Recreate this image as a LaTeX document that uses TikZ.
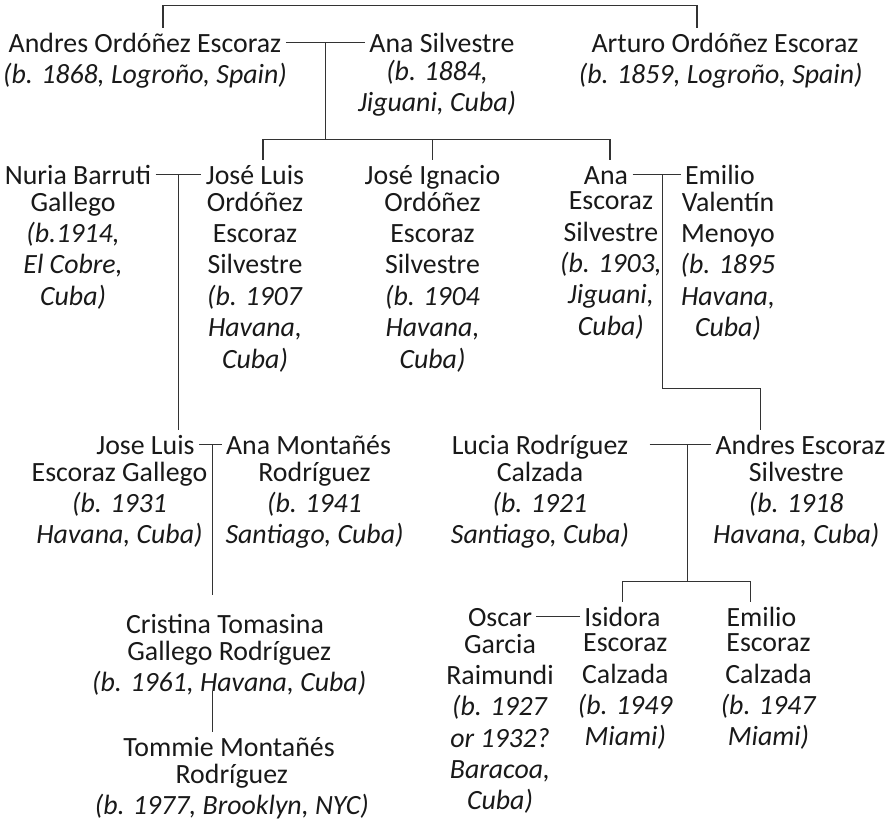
\documentclass[tikz,border=0pt]{standalone}
\usepackage{fontspec}
\setmainfont{Carlito}
\usetikzlibrary{positioning, calc}

\newcommand{\bdate}[1]{\textit{#1}}
\newcommand{\topstrut}{\rule{0pt}{17.1pt}}
\newcommand{\botstrut}{\rule[-5.2pt]{0pt}{5.2pt}}

\tikzset{
  who/.style={align=center, inner ysep=0pt, inner xsep=3pt, text=black!90,
    font=\fontsize{19.8}{22.3}\selectfont,
    execute at begin node=\topstrut, execute at end node=\botstrut},
  head/.style={who, anchor=base},
  rest/.style={who},
  cpl/.style={yshift=0.5pt},
  line/.style={line width=0.75pt, black!80}
}

\begin{document}
\begin{tikzpicture}[x=0.025cm, y=-0.025cm]
  \useasboundingbox (0,0) rectangle (889,824);

  % first generation %
  \node[head] (andres) at (145,52) {Andres Ordóñez Escoraz};
  \node[rest, below=0pt of andres] (andres-d) {\bdate{(b. 1868, Logroño, Spain)}};
  \node[head] (anasil) at (442,52) {Ana Silvestre};
  \node[rest, below=0pt of anasil, xshift=-3.5pt] (anasil-d) {\bdate{(b. 1884,}\\\bdate{Jiguani, Cuba)}};
  \node[head] (arturo) at (725,52) {Arturo Ordóñez Escoraz};
  \node[rest, below=0pt of arturo, xshift=-3pt] (arturo-d) {\bdate{(b. 1859, Logroño, Spain)}};

  % second generation %
  \node[head] (nuria) at (78,184) {Nuria Barruti};
  \node[rest, below=0pt of nuria, xshift=-3.5pt] (nuria-d) {Gallego\\\bdate{(b.1914,}\\\bdate{El Cobre,}\\\bdate{Cuba)}};
  \node[head] (joseluis) at (255,184) {José Luis};
  \node[rest, below=0pt of joseluis] (joseluis-d) {Ordóñez\\Escoraz\\Silvestre\\\bdate{(b. 1907}\\\bdate{Havana,}\\\bdate{Cuba)}};
  \node[head] (joseig) at (432.5,184) {José Ignacio};
  \node[rest, below=0pt of joseig] (joseig-d) {Ordóñez\\Escoraz\\Silvestre\\\bdate{(b. 1904}\\\bdate{Havana,}\\\bdate{Cuba)}};
  \node[head] (anaes) at (606,184) {Ana};
  \node[rest, below=0pt of anaes, xshift=3.5pt] (anaes-d) {Escoraz\\Silvestre\\\bdate{(b. 1903,}\\\bdate{Jiguani,}\\\bdate{Cuba)}};
  \node[head] (emiliov) at (720,184) {Emilio};
  \node[rest, below=0pt of emiliov, xshift=5.7pt] (emiliov-d) {Valentín\\Menoyo\\\bdate{(b. 1895}\\\bdate{Havana,}\\\bdate{Cuba)}};

  % third generation %
  \node[head] (jljr) at (145.5,454) {Jose Luis};
  \node[rest, below=0pt of jljr, xshift=-18.5pt] (jljr-d) {Escoraz Gallego\\\bdate{(b. 1931}\\\bdate{Havana, Cuba)}};
  \node[head] (anamon) at (308.5,454) {Ana Montañés};
  \node[rest, below=0pt of anamon, xshift=4.3pt] (anamon-d) {Rodríguez\\\bdate{(b. 1941}\\\bdate{Santiago, Cuba)}};
  \node[head] (lucia) at (540,454) {Lucia Rodríguez};
  \node[rest, below=0pt of lucia] (lucia-d) {Calzada\\\bdate{(b. 1921}\\\bdate{Santiago, Cuba)}};
  \node[head] (andreses) at (800.5,454) {Andres Escoraz};
  \node[rest, below=0pt of andreses, xshift=-3pt] (andreses-d) {Silvestre\\\bdate{(b. 1918}\\\bdate{Havana, Cuba)}};

  % fourth and fifth generation %
  \node[head] (cristina) at (225,633) {Cristina Tomasina};
  \node[rest, below=0pt of cristina, xshift=3pt] (cristina-d) {Gallego Rodríguez\\\bdate{(b. 1961, Havana, Cuba)}};
  \node[head] (tommie) at (229,756) {Tommie Montañés};
  \node[rest, below=0pt of tommie, xshift=2pt] (tommie-d) {Rodríguez\\\bdate{(b. 1977, Brooklyn, NYC)}};
  \node[head] (oscar) at (500,626) {Oscar};
  \node[rest, below=0pt of oscar] (oscar-d) {Garcia\\Raimundi\\\bdate{(b. 1927}\\\bdate{or 1932?}\\\bdate{Baracoa,}\\\bdate{Cuba)}};
  \node[head] (isidora) at (622.5,626) {Isidora};
  \node[rest, below=0pt of isidora, xshift=2pt] (isidora-d) {Escoraz\\Calzada\\\bdate{(b. 1949}\\\bdate{Miami)}};
  \node[head] (emilioec) at (761.5,626) {Emilio};
  \node[rest, below=0pt of emilioec, xshift=5pt] (emilioec-d) {Escoraz\\Calzada\\\bdate{(b. 1947}\\\bdate{Miami)}};

  % brothers %
  \draw[line] ($(andres.north)+(18,0)$) -- ++(0,-22) -| ($(arturo.north)+(-28,0)$);

  % couples %
  \draw[line] ([cpl]andres.east) -- coordinate[midway] (m-aa) ([cpl]anasil.west);
  \draw[line] ([cpl]nuria.east) -- coordinate[midway] (m-nj) ([cpl]joseluis.west);
  \draw[line] ([cpl]anaes.east) -- coordinate[pos=.63] (m-ae) ([cpl]emiliov.west);
  \draw[line] ([cpl]jljr.east) -- coordinate[pos=.6] (m-ja) ([cpl]anamon.west);
  \draw[line, shorten <=12pt] ([cpl]lucia.east) -- coordinate[pos=.7] (m-la) ([cpl]andreses.west);
  \draw[line] ([cpl]oscar.east) -- ([cpl]isidora.west);

  % children %
  \draw[line] ($(joseluis.north)+(8,0)$) -- ++(0,-20) coordinate (bar1) -| ($(anaes.north)+(4,0)$);
  \draw[line] (joseig.north) -- (joseig.north |- bar1);
  \draw[line] (m-aa) -- (m-aa |- bar1);
  \draw[line] (m-nj) -- (m-nj |- jljr.north);
  \draw[line] (m-ae) -- ++(0,214) -| ($(andreses.north)+(-40,0)$);
  \draw[line] (m-ja) -- ($(m-ja |- cristina.north)+(0,-14)$);
  \draw[line] ($(m-ja |- cristina-d.south)+(0,-8)$) -- (m-ja |- tommie.north);
  \draw[line] (isidora.north) -- ++(0,-20) coordinate (bar2) -| ($(emilioec.north)+(-11,0)$);
  \draw[line] (m-la) -- (m-la |- bar2);
\end{tikzpicture}
\end{document}
